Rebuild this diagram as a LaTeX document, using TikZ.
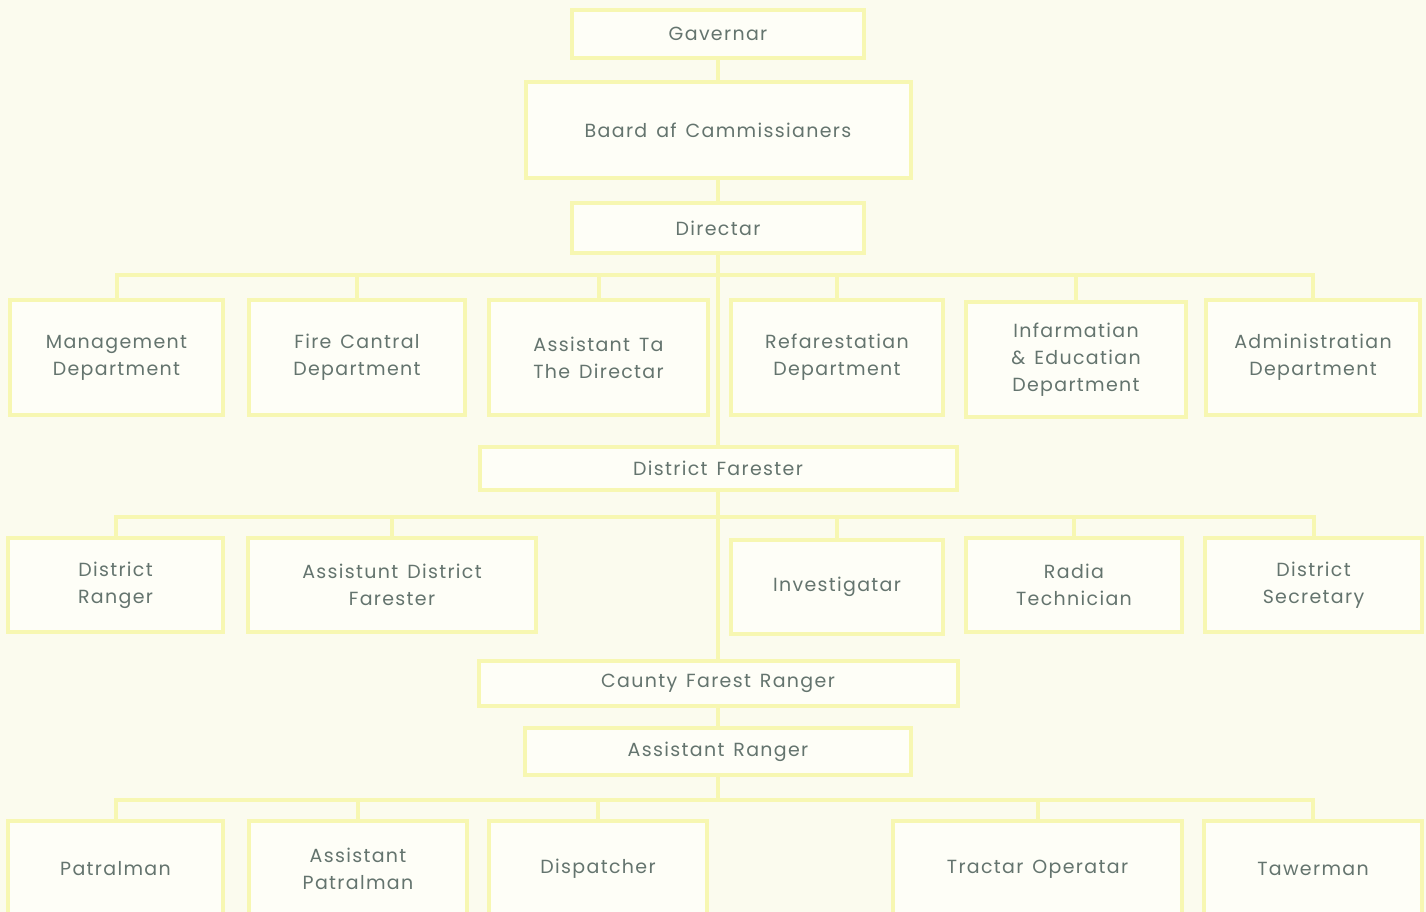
\documentclass[tikz,border=0pt]{standalone}
\usepackage{fontspec}
\newfontfamily\chartfont{Poppins}[LetterSpace=7.0, WordSpace=1.4]
\begin{document}
\begin{tikzpicture}[x=1pt,y=-1pt,line cap=rect,
	box/.style={draw=custcol_f7_f7_b2, line width=4.0pt, fill=custcol_fe_fe_f7, text=custcol_64_74_6e,
		font=\chartfont\fontsize{19pt}{27pt}\selectfont, align=center, inner sep=0, outer sep=0},
	link/.style={draw=custcol_f7_f7_b2, line width=4.0pt}]
	\definecolor{custcol_fb_fb_ee}{RGB}{251, 251, 238}
	\definecolor{custcol_f7_f7_b2}{RGB}{247, 247, 178}
	\definecolor{custcol_fe_fe_f7}{RGB}{254, 254, 247}
	\definecolor{custcol_64_74_6e}{RGB}{100, 116, 110}
	\useasboundingbox (0.0,0.0) rectangle (1426.0,912.0);
	\clip (0.0,0.0) rectangle (1426.0,912.0);
	\fill [custcol_fb_fb_ee] (0.0,0.0) rectangle (1426.0,912.0);
	% top of the chart
	\node[box, minimum width=292, minimum height=48] (gov) at (718.0,34.0) {Gavernar};
	\node[box, minimum width=385, minimum height=96] (board) at (718.0,130.0) {Baard af Cammissianers};
	\node[box, minimum width=292, minimum height=49] (dir) at (718.0,228.0) {Directar};
	% departments
	\node[box, minimum width=213, minimum height=115] (mgmt) at (116.5,357.5) {Management\\Department};
	\node[box, minimum width=216, minimum height=115] (fire) at (357.0,357.5) {Fire Cantral\\Department};
	\node[box, minimum width=219, minimum height=115] (asst) at (598.5,357.5) {Assistant Ta\\The Directar};
	\node[box, minimum width=212, minimum height=115] (refor) at (837.0,357.5) {Refarestatian\\Department};
	\node[box, minimum width=220, minimum height=115] (info) at (1076.0,359.5) {Infarmatian\\\& Educatian\\Department};
	\node[box, minimum width=214, minimum height=115] (admin) at (1313.0,357.5) {Administratian\\Department};
	% district
	\node[box, minimum width=477, minimum height=43] (df) at (718.0,468.5) {District Farester};
	\node[box, minimum width=215, minimum height=94] (ranger) at (115.5,585.0) {District\\Ranger};
	\node[box, minimum width=288, minimum height=94] (adf) at (392.0,585.0) {Assistunt District\\Farester};
	\node[box, minimum width=212, minimum height=94] (inv) at (837.0,587.0) {Investigatar};
	\node[box, minimum width=216, minimum height=94] (radio) at (1074.0,585.0) {Radia\\Technician};
	\node[box, minimum width=217, minimum height=94] (sec) at (1313.5,585.0) {District\\Secretary};
	% county
	\node[box, minimum width=479, minimum height=45] (cfr) at (718.0,683.0) {Caunty Farest Ranger};
	\node[box, minimum width=386, minimum height=47] (ar) at (718.0,751.5) {Assistant Ranger};
	\node[box, minimum width=215, minimum height=96] (patrol) at (115.5,869.0) {Patralman};
	\node[box, minimum width=218, minimum height=96] (apatrol) at (358.0,869.0) {Assistant\\Patralman};
	\node[box, minimum width=218, minimum height=96] (disp) at (598.0,869.0) {Dispatcher};
	\node[box, minimum width=289, minimum height=96] (tractor) at (1037.5,869.0) {Tractar Operatar};
	\node[box, minimum width=218, minimum height=96] (tower) at (1313.0,869.0) {Tawerman};
	% lines
	\coordinate (bus1) at (718.0,275.0);
	\coordinate (bus2) at (718.0,517.0);
	\coordinate (bus3) at (718.0,800.0);
	\draw [link] (gov.south) -- (board.north);
	\draw [link] (board.south) -- (dir.north);
	\draw [link] (dir.south) -- (df.north);
	\draw [link] (df.south) -- (cfr.north);
	\draw [link] (cfr.south) -- (ar.north);
	\draw [link] (ar.south) -- (bus3);
	\foreach \n in {mgmt,fire,asst,refor,info,admin}
		\draw [link] (\n.north) |- (bus1);
	\foreach \n in {ranger,adf,inv,radio,sec}
		\draw [link] (\n.north) |- (bus2);
	\foreach \n in {patrol,apatrol,disp,tractor,tower}
		\draw [link] (\n.north) |- (bus3);
\end{tikzpicture}
\end{document}
